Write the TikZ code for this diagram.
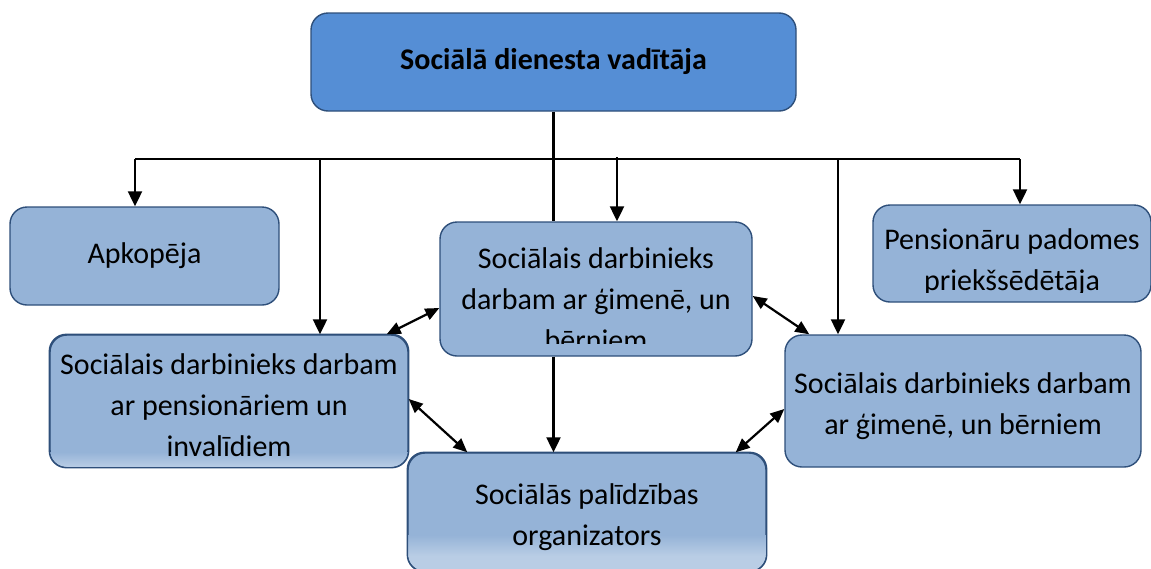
\documentclass[tikz,border=0pt]{standalone}
\usepackage{fontspec}
\setmainfont{Carlito}
\usetikzlibrary{arrows.meta}
\definecolor{boxfill}{HTML}{95B3D7}
\definecolor{boxlight}{HTML}{B9CDE5}
\definecolor{topfill}{HTML}{558ED5}
\definecolor{boxline}{HTML}{2E4F7A}
\tikzset{
  box/.style={draw=boxline, line width=1.4pt, fill=boxfill, rounded corners=17pt, inner sep=0pt},
  boxtext/.style={align=center, font=\fontsize{30}{41}\selectfont, inner sep=0pt},
  conn/.style={line width=2.2pt, -{Triangle[length=15pt,width=14pt]}},
  link/.style={line width=2.2pt, {Triangle[length=14pt,width=12pt]}-{Triangle[length=14pt,width=12pt]}},
  bus/.style={line width=2.2pt}
}
\begin{document}
\begin{tikzpicture}[x=1pt,y=-1pt]
\useasboundingbox (0,0) rectangle (1151,568);
% boxes
\node[box, fill=topfill, minimum width=485pt, minimum height=98pt] (top) at (553.5,62) {};
\node[font=\bfseries\fontsize{30}{36}\selectfont] (toptext) at (553.5,62) {Sociālā dienesta vadītāja};
\node[box, minimum width=269pt, minimum height=98pt] (apk) at (144.5,256) {};
\node[boxtext] (apktext) at (144.5,256) {Apkopēja};
\node[box, minimum width=312pt, minimum height=134pt] (cbox) at (596,289) {};
\node[box, minimum width=278pt, minimum height=97pt] (pens) at (1012,253.5) {};
\node[box, minimum width=358pt, minimum height=132pt] (lbox) at (229,401) {};
\begin{scope}
  \clip[rounded corners=17pt] (50,335) rectangle (408,467);
  \shade[top color=boxfill, bottom color=boxlight] (50,452) rectangle (408,467);
\end{scope}
\draw[draw=boxline, line width=1.4pt, rounded corners=17pt] (lbox.south west) rectangle (lbox.north east);
\node[boxtext] (ltext) at (229,405) {Sociālais darbinieks darbam\\ar pensionāriem un\\invalīdiem};
\node[box, minimum width=356pt, minimum height=132pt] (rbox) at (963,401) {};
\node[boxtext] (rtext) at (963,406) {Sociālais darbinieks darbam\\ar ģimenē, un bērniem};
\node[box, minimum width=358pt, minimum height=118pt] (bbox) at (587,512) {};
\begin{scope}
  \clip[rounded corners=17pt] (408,453) rectangle (766,571);
  \shade[top color=boxfill, bottom color=boxlight] (408,535) rectangle (766,556);
  \fill[boxlight] (408,556) rectangle (766,571);
\end{scope}
\draw[draw=boxline, line width=1.4pt, rounded corners=17pt] (bbox.south west) rectangle (bbox.north east);
\node[boxtext] (btext) at (587,517) {Sociālās palīdzības\\organizators};
% clipped texts
\begin{scope}
  \clip (440,222) rectangle (752,343);
  \node[boxtext] (ctext) at (596,299) {Sociālais darbinieks\\darbam ar ģimenē, un\\bērniem};
\end{scope}
\begin{scope}
  \clip (873,205) rectangle (1151,292);
  \node[boxtext] (ptext) at (1012,262) {Pensionāru padomes\\priekšsēdētāja};
\end{scope}
% bus
\coordinate (busL) at (135,159);
\coordinate (busR) at (1020,159);
\coordinate (bA) at (320,159);
\coordinate (bC) at (617,157);
\coordinate (bR) at (838,159);
\draw[bus] (top.south) -- (top.south |- cbox.north);
\draw[bus] (busL) -- (busR);
\draw[conn] (busL) -- (busL |- apk.north);
\draw[conn] (bA) -- (bA |- lbox.north);
\draw[conn] (bC) -- (bC |- cbox.north);
\draw[conn] (bR) -- (bR |- rbox.north);
\draw[conn] (busR) -- (busR |- pens.north);
\draw[conn] (top.south |- cbox.south) -- (top.south |- bbox.north);
% links
\draw[link] ([xshift=-22pt]lbox.north east) -- ([yshift=-19pt]cbox.west);
\draw[link] ([yshift=-7pt]cbox.east) -- ([xshift=25pt]rbox.north west);
\draw[link] ([yshift=2pt]lbox.east) -- ([xshift=60pt]bbox.north west);
\draw[link] ([xshift=-31pt]bbox.north east) -- ([yshift=-8pt]rbox.west);
\end{tikzpicture}
\end{document}
